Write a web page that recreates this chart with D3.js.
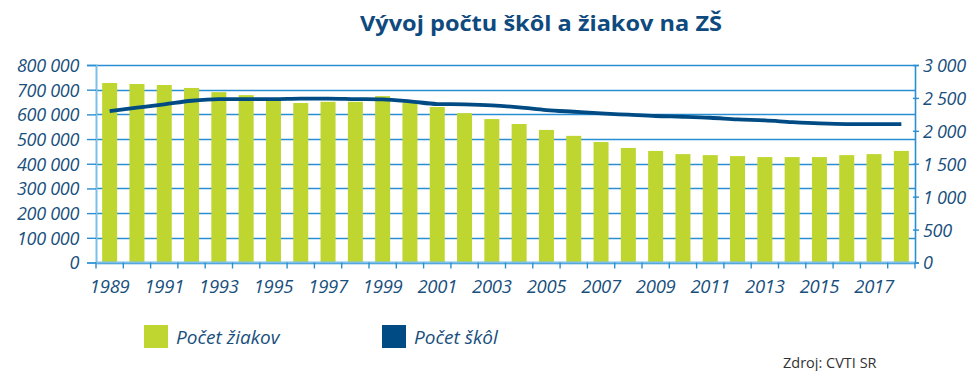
<!DOCTYPE html>
<html>
<head>
<meta charset="utf-8">
<script src="https://cdn.jsdelivr.net/npm/d3@7"></script>
<style>
  html, body { margin: 0; padding: 0; background: #fff; }
  svg { display: block; font-family: "Open Sans", "Noto Sans", sans-serif; }
</style>
</head>
<body>
<svg id="chart" width="974" height="371"></svg>
<script>
// Roky, počet žiakov a počet škôl (ZŠ)
const years = d3.range(1989, 2019).map(String);
const pupils = [727000, 723000, 719000, 707000, 690000, 678000, 662000, 646000, 651000, 651000,
                674000, 648000, 630000, 605000, 581000, 561000, 537000, 513000, 488000, 464000,
                452000, 439000, 435000, 431000, 427000, 427000, 427000, 435000, 439000, 452000];
const schools = [2300, 2351, 2402, 2457, 2483, 2483, 2483, 2490, 2490, 2483,
                 2478, 2448, 2407, 2402, 2387, 2357, 2316, 2290, 2265, 2245,
                 2225, 2214, 2199, 2174, 2159, 2133, 2113, 2103, 2103, 2103];
const leftTicks = [0, 100000, 200000, 300000, 400000, 500000, 600000, 700000, 800000];
const rightTicks = [0, 500, 1000, 1500, 2000, 2500, 3000];
const yearLabels = years.filter((d, i) => i % 2 === 0);

const title = "Vývoj počtu škôl a žiakov na ZŠ";
const legendItems = ["Počet žiakov", "Počet škôl"];
const source = "Zdroj: CVTI SR";

const C = {
  bar: "#bfd630",
  line: "#004b84",
  grid: "#2a8fd2",
  axis: "#7cbfe8",
  text: "#184f7d"
};

const svg = d3.select("#chart");
const m = { left: 96, right: 915, top: 65, bottom: 262.5 };

const x = d3.scaleBand().domain(years).range([m.left, m.right]).paddingInner(0.45).paddingOuter(0.225);
const yL = d3.scaleLinear().domain([0, 800000]).range([m.bottom, m.top]);
const yR = d3.scaleLinear().domain([0, 3000]).range([m.bottom, m.top]);

const fmt = v => d3.format(",")(v).replace(/,/g, " ");

// Title
svg.append("text")
  .attr("x", 541).attr("y", 31)
  .attr("text-anchor", "middle")
  .attr("font-size", 21).attr("font-weight", 700)
  .attr("fill", "#0f4a7e")
  .attr("textLength", 362).attr("lengthAdjust", "spacingAndGlyphs")
  .text(title);

// Horizontal gridlines
svg.append("g").selectAll("line").data(leftTicks).join("line")
  .attr("x1", m.left).attr("x2", m.right)
  .attr("y1", d => Math.round(yL(d)) + 0.5).attr("y2", d => Math.round(yL(d)) + 0.5)
  .attr("stroke", C.grid).attr("stroke-width", 1.4);

// Bars
svg.append("g").selectAll("rect").data(years).join("rect")
  .attr("x", d => x(d))
  .attr("width", x.bandwidth())
  .attr("y", (d, i) => yL(pupils[i]))
  .attr("height", (d, i) => yL(0) - yL(pupils[i]))
  .attr("fill", C.bar);

// Line: number of schools
const line = d3.line()
  .x((d, i) => x(years[i]) + x.bandwidth() / 2)
  .y(d => yR(d))
  .curve(d3.curveMonotoneX);
svg.append("path").datum(schools)
  .attr("d", line)
  .attr("fill", "none")
  .attr("stroke", C.line)
  .attr("stroke-width", 3.8)
  .attr("stroke-linejoin", "round");

// Left axis
const gl = svg.append("g").attr("transform", `translate(${m.left},0)`)
  .call(d3.axisLeft(yL).tickValues(leftTicks).tickFormat(fmt).tickSize(9).tickPadding(8));
gl.select(".domain").attr("stroke", C.axis).attr("stroke-width", 2);
gl.selectAll(".tick line").attr("stroke", C.grid).attr("stroke-width", 1.4);
gl.selectAll("text").attr("font-size", 18).attr("font-style", "italic").attr("fill", C.text)
  .attr("font-family", "'Open Sans', sans-serif").attr("dy", "0.36em").attr("letter-spacing", -0.3);

// Right axis
const gr = svg.append("g").attr("transform", `translate(${m.right},0)`)
  .call(d3.axisRight(yR).tickValues(rightTicks).tickFormat(fmt).tickSize(4).tickPadding(4));
gr.select(".domain").attr("stroke", C.grid).attr("stroke-width", 1.6);
gr.selectAll(".tick line").attr("stroke", C.grid).attr("stroke-width", 1.4).attr("x1", -2);
gr.selectAll("text").attr("font-size", 18).attr("font-style", "italic").attr("fill", C.text)
  .attr("font-family", "'Open Sans', sans-serif").attr("dy", "0.36em").attr("letter-spacing", -0.3);

// Bottom axis: ticks on category boundaries
const gb = svg.append("g");
gb.append("line").attr("x1", m.left).attr("x2", m.right)
  .attr("y1", m.bottom).attr("y2", m.bottom)
  .attr("stroke", C.axis).attr("stroke-width", 2);
const bounds = years.map(d => x(d) - x.step() * x.paddingInner() / 2).concat([m.right]);
gb.selectAll("line.tk").data(bounds).join("line").attr("class", "tk")
  .attr("x1", d => d).attr("x2", d => d)
  .attr("y1", m.bottom).attr("y2", m.bottom + 6)
  .attr("stroke", C.grid).attr("stroke-width", 1.4);
gb.selectAll("text").data(yearLabels).join("text")
  .attr("x", d => x(d) + x.bandwidth() / 2)
  .attr("y", 293)
  .attr("text-anchor", "middle")
  .attr("font-size", 18.5).attr("font-style", "italic").attr("fill", C.text)
  .attr("letter-spacing", -0.3)
  .text(d => d);

// Legend
const lg = svg.append("g");
const legendPos = [{ x: 144, c: C.bar }, { x: 382, c: C.line }];
lg.selectAll("rect").data(legendItems).join("rect")
  .attr("x", (d, i) => legendPos[i].x).attr("y", 325)
  .attr("width", 24).attr("height", 23)
  .attr("fill", (d, i) => legendPos[i].c);
lg.selectAll("text").data(legendItems).join("text")
  .attr("x", (d, i) => legendPos[i].x + 32).attr("y", 344)
  .attr("font-size", 19).attr("font-style", "italic").attr("fill", C.text)
  .text(d => d);

// Source note
svg.append("text")
  .attr("x", 783).attr("y", 368)
  .attr("font-size", 14.5).attr("fill", "#333")
  .text(source);
</script>
</body>
</html>
